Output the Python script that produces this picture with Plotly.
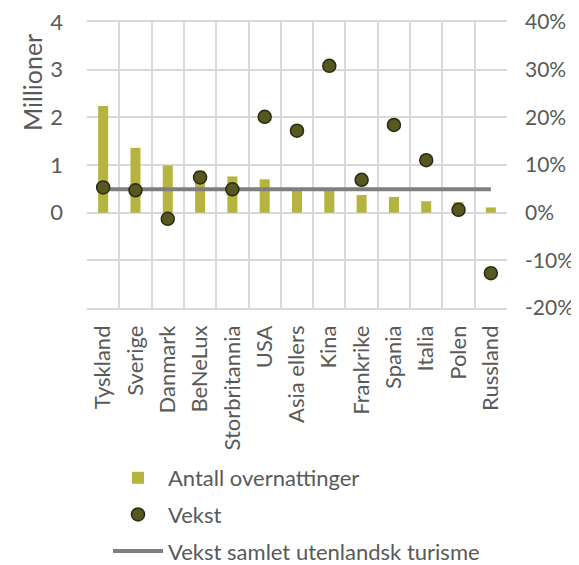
import plotly.graph_objects as go

categories = ["Tyskland", "Sverige", "Danmark", "BeNeLux", "Storbritannia", "USA",
              "Asia ellers", "Kina", "Frankrike", "Spania", "Italia", "Polen", "Russland"]
overnattinger = [2.24, 1.36, 0.99, 0.88, 0.76, 0.70, 0.48, 0.48, 0.37, 0.33, 0.24, 0.22, 0.11]
vekst = [0.053, 0.047, -0.013, 0.074, 0.049, 0.201, 0.172, 0.308, 0.069, 0.184, 0.110, 0.006, -0.127]
vekst_samlet = [0.049] * len(categories)

left_ticks = [-2, -1, 0, 1, 2, 3, 4]
left_labels = ["", "", "0", "1", "2", "3", "4"]
right_ticks = [-0.2, -0.1, 0, 0.1, 0.2, 0.3, 0.4]
right_labels = ["-20%", "-10%", "0%", "10%", "20%", "30%", "40%"]

xs = list(range(len(categories)))
FONT = "Lato"
TXT = "#595959"
GRID = "#d9d9d9"
FS = 22

fig = go.Figure()
fig.add_trace(go.Bar(x=xs, y=overnattinger, name="Antall overnattinger",
                     legendrank=1, legendgroup="a",
                     marker=dict(color="#b5b43f", line=dict(width=0)), width=0.31))
fig.add_trace(go.Scatter(x=xs, y=vekst_samlet, yaxis="y2", mode="lines",
                         name="Vekst samlet utenlandsk turisme", legendrank=3, legendgroup="c",
                         line=dict(color="#7f7f7f", width=4)))
fig.add_trace(go.Scatter(x=xs, y=vekst, yaxis="y2", mode="markers", name="Vekst",
                         legendrank=2, legendgroup="b",
                         marker=dict(size=13, color="#575720",
                                     line=dict(color="#2b2b10", width=1.5))))

fig.add_annotation(text="Millioner", textangle=-90, xref="paper", yref="paper",
                   x=-0.131, y=0.79, xanchor="center", yanchor="middle", showarrow=False,
                   font=dict(size=25, color=TXT, family=FONT))

fig.update_layout(
    width=579, height=590,
    margin=dict(l=79, r=80, t=14, b=290),
    paper_bgcolor="white", plot_bgcolor="white",
    font=dict(family=FONT, color=TXT, size=FS),
    xaxis=dict(range=[-0.5, 12.5], tickvals=xs, ticktext=categories, tickangle=-90,
               showgrid=False, zeroline=False, showline=True, linecolor=GRID,
               linewidth=1.5, mirror=True, ticks="", automargin=False,
               ticklabelstandoff=7, ticklabeloverflow="allow",
               minor=dict(tick0=-0.5, dtick=1, showgrid=True, gridcolor=GRID, gridwidth=1.5),
               tickfont=dict(size=FS, color=TXT)),
    yaxis=dict(range=[-2, 4], tickvals=left_ticks, ticktext=left_labels, automargin=False,
               showgrid=True, gridcolor=GRID, gridwidth=1.5, zeroline=False,
               showline=False, ticks="", tickfont=dict(size=FS, color=TXT),
               ticklabelstandoff=23, ticklabeloverflow="allow"),
    yaxis2=dict(range=[-0.2, 0.4], overlaying="y", side="right",
                tickvals=right_ticks, ticktext=right_labels, showgrid=False,
                zeroline=False, ticks="", automargin=False, ticklabelstandoff=17,
                ticklabeloverflow="allow", tickfont=dict(size=21, color=TXT)),
    legend=dict(x=(100 - 79) / 420, y=(300 - 449) / 286,
                xanchor="left", yanchor="top",
                traceorder="grouped", font=dict(size=FS, color=TXT),
                itemwidth=50, tracegroupgap=5, bgcolor="rgba(0,0,0,0)"),
    showlegend=True,
)

fig.write_html("out.html")
